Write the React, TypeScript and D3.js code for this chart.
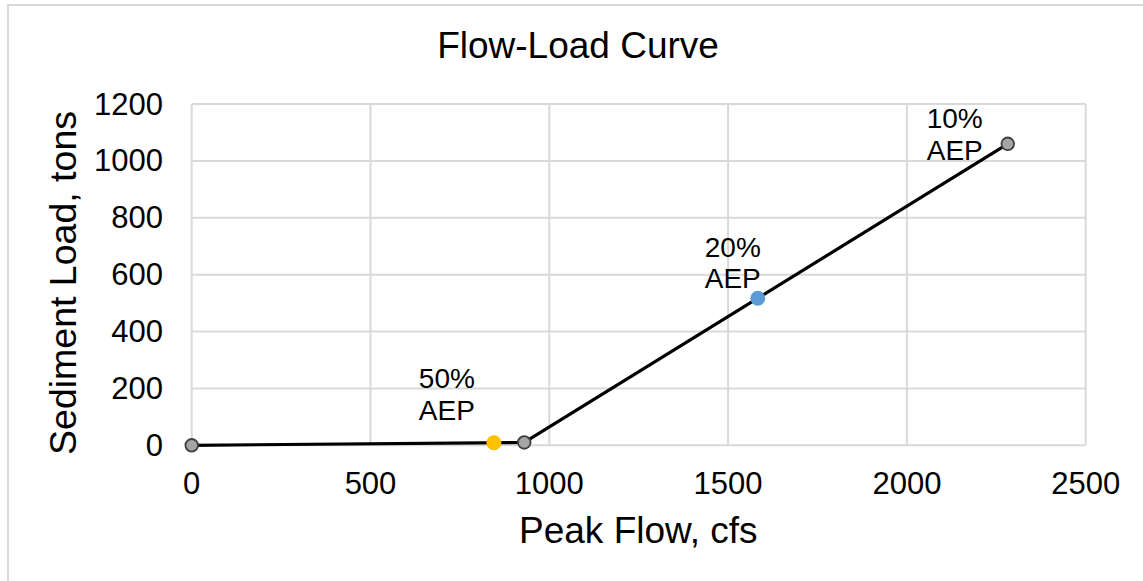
import React from 'react';
import * as d3 from 'd3';

// flow (cfs) / load (tons)
const curveFlow = [0, 930, 2282];
const curveLoad = [0, 10, 1060];

const aepNames = ['50%', '20%', '10%'];
const aepFlow = [845, 1583, 2282];
const aepLoad = [9, 517, 1060];
const aepColors = ['#FFC000', '#5B9BD5', null];

const xTicks = [0, 500, 1000, 1500, 2000, 2500];
const yTicks = [0, 200, 400, 600, 800, 1000, 1200];

const W = 1143;
const H = 581;
const font = 'Liberation Sans, Arial, sans-serif';

// label placement relative to the point, in px
const labelOffsets = [
    { dx: -47, dy: -23 },
    { dx: -25, dy: -10 },
    { dx: -53, dy: 16 },
];

export default function App() {
    const x = d3.scaleLinear().domain([0, 2500]).range([191.7, 1085.7]);
    const y = d3.scaleLinear().domain([0, 1200]).range([445.3, 104]);

    const pts: [number, number][] = curveFlow.map((f, i) => [f, curveLoad[i]]);
    const line = d3.line<[number, number]>()
        .x(d => x(d[0]))
        .y(d => y(d[1]));

    const grid = '#d9d9d9';

    return (
        <svg width={W} height={H} style={{ position: 'absolute', left: 0, top: 0 }} fontFamily={font}>
            <rect x={0} y={0} width={W} height={H} fill="#fff" />
            <rect x={8} y={5} width={W} height={H} fill="none" stroke={grid} strokeWidth={2} />

            <text x={578} y={58} textAnchor="middle" fontSize={37} fill="#000">Flow-Load Curve</text>

            {/* grid */}
            {yTicks.map(t => (
                <line key={'gy' + t} x1={x(0)} x2={x(2500)} y1={y(t)} y2={y(t)} stroke={grid} strokeWidth={2} />
            ))}
            {xTicks.map(t => (
                <line key={'gx' + t} x1={x(t)} x2={x(t)} y1={y(0)} y2={y(1200)} stroke={grid} strokeWidth={2} />
            ))}

            {/* tick labels */}
            {yTicks.map(t => (
                <text key={'ty' + t} x={163} y={y(t) + 10.5} textAnchor="end" fontSize={31} fill="#000">{t}</text>
            ))}
            {xTicks.map(t => (
                <text key={'tx' + t} x={x(t)} y={494} textAnchor="middle" fontSize={31} fill="#000">{t}</text>
            ))}

            {/* axis titles */}
            <text x={638.3} y={543.3} textAnchor="middle" fontSize={37} fill="#000">Peak Flow, cfs</text>
            <text transform="translate(76,283) rotate(-90)" textAnchor="middle" fontSize={37.5} fill="#000">
                Sediment Load, tons
            </text>

            {/* curve */}
            <path d={line(pts) || ''} fill="none" stroke="#000" strokeWidth={3.2} />
            {pts.map((d, i) => (
                <circle key={'c' + i} cx={x(d[0])} cy={y(d[1])} r={6.3} fill="#a5a5a5" stroke="#404040" strokeWidth={1.8} />
            ))}

            {/* AEP points */}
            {aepFlow.map((f, i) => aepColors[i] ? (
                <circle key={'a' + i} cx={x(f)} cy={y(aepLoad[i])} r={7.5} fill={aepColors[i] as string} />
            ) : null)}

            {aepFlow.map((f, i) => {
                const cx = x(f) + labelOffsets[i].dx;
                const by = y(aepLoad[i]) + labelOffsets[i].dy;
                return (
                    <text key={'l' + i} x={cx} y={by} textAnchor="middle" fontSize={28} fill="#000">
                        <tspan x={cx} dy={-31.4}>{aepNames[i]}</tspan>
                        <tspan x={cx} dy={31.4}>AEP</tspan>
                    </text>
                );
            })}
        </svg>
    );
}
